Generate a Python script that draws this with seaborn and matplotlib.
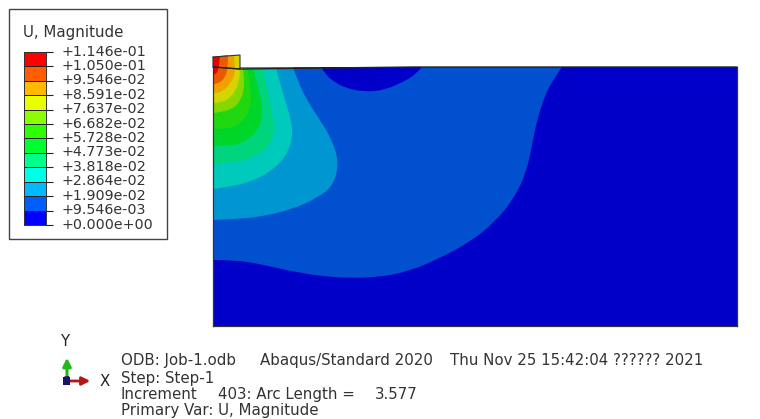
"""Abaqus style contour plot of U, Magnitude with legend and triad."""
import matplotlib
matplotlib.use("Agg")
import matplotlib.pyplot as plt
import numpy as np
import seaborn as sns
from matplotlib.colors import ListedColormap
from matplotlib.patches import PathPatch, Rectangle
from matplotlib.path import Path
from matplotlib.transforms import ScaledTranslation

sns.set_theme(style="white")
plt.rcParams["font.family"] = ["DejaVu Sans"]

LEVEL_LABELS = ["+1.146e-01", "+1.050e-01", "+9.546e-02", "+8.591e-02", "+7.637e-02", "+6.682e-02", "+5.728e-02",
                "+4.773e-02", "+3.818e-02", "+2.864e-02", "+1.909e-02", "+9.546e-03", "+0.000e+00"]
LEGEND_COLORS = ["#ff0000", "#ff5d00", "#ffb900", "#e8ff00", "#8bff00", "#2eff00",
                 "#00ff2e", "#00ff8b", "#00ffe8", "#00b9ff", "#005dff", "#0000ff"]
# field colours, low band to high band
FIELD_COLORS = ["#0000c8", "#0050d0", "#0096d2", "#00cabc", "#00d47c", "#00d62a",
                "#20d810", "#84d800", "#d4d400", "#f0a000", "#ea5a00", "#e60000"]

# contour boundaries: x along the surface, depth below it (model has no scale, so screen-sized units)
band2_x = [349, 340, 332, 324, 319, 314, 302, 282, 257, 227, 197, 167, 137, 107, 77, 47, 22, 0]
band2_d = [0, 13, 28, 53, 78, 103, 130, 155, 175, 191, 204, 210, 211, 209, 204, 197, 193, 193]
band3_x = [80, 85, 95, 107, 119, 126, 120, 104, 80, 47, 22, 0]
band3_d = [0, 15, 35, 53, 73, 96, 119, 131, 142, 150, 152, 153]
band4_x = [63, 67, 73, 78, 80, 72, 58, 42, 22, 0]
band4_d = [1, 16, 36, 53, 71, 91, 104, 113, 119, 122]
band5_x = [50, 55, 60, 61, 55, 37, 17, 0]
band5_d = [1, 26, 50, 67, 81, 92, 96, 97]
band6_x = [40, 47, 50, 45, 30, 14, 0]
band6_d = [1, 26, 46, 64, 76, 79, 79]
band7_x = [34, 39, 37, 26, 10, 0]
band7_d = [1, 23, 44, 59, 62, 62]
band8_x = [30, 32, 28, 17, 0]
band8_d = [1, 16, 34, 44, 46]
band9_x = [27, 27, 26, 18, 7, 0]
band9_d = [-12, 1, 17, 31, 36, 36]
band10_x = [21, 23, 18, 7, 0]
band10_d = [-11, 3, 17, 26, 26]
band11_x = [15, 15, 12, 5, 0]
band11_d = [-12, 1, 11, 17, 17]
band12_x = [7, 6, 2, 0]
band12_d = [-11, 3, 8, 8]
# the shallow low displacement pocket under the surface
pocket_x = [108, 113, 120, 132, 152, 172, 192, 203, 209]
pocket_d = [0, 8, 14, 21, 25, 23, 14, 7, 0]

DOMAIN_W, DOMAIN_D = 524, 259
PLATE_X = [0, 27, 27, 0]
PLATE_D = [-10, -12, 2, 0]


def page_axes(fig):
    ax = fig.add_axes([0, 0, 1, 1], zorder=0)
    ax.set_xlim(0, 760)
    ax.set_ylim(419, 0)
    ax.axis("off")
    return ax


def smooth_band(xs, ds, corner):
    """Region between a boundary curve and the corner; the read points steer quadratic segments."""
    pts = list(zip(xs, ds))
    verts, codes = [pts[0]], [Path.MOVETO]
    for i in range(1, len(pts) - 1):
        end = pts[-1] if i == len(pts) - 2 else ((pts[i][0] + pts[i + 1][0]) / 2, (pts[i][1] + pts[i + 1][1]) / 2)
        verts += [pts[i], end]
        codes += [Path.CURVE3, Path.CURVE3]
    verts += [corner, pts[0]]
    codes += [Path.LINETO, Path.CLOSEPOLY]
    return Path(verts, codes)


def draw_legend(fig, page):
    page.add_patch(Rectangle((9, 9), 158, 230, facecolor="white", edgecolor="#444444", lw=1))
    page.text(23, 33, "U, Magnitude", fontsize=10.8, color="#333333", va="center")
    ax = fig.add_axes([24 / 760, 1 - 225 / 419, 22 / 760, 173 / 419], zorder=1)
    values = np.arange(len(LEGEND_COLORS)).reshape(-1, 1)
    sns.heatmap(values, ax=ax, cmap=ListedColormap(LEGEND_COLORS), cbar=False, linewidths=0.5, linecolor="#222222",
                xticklabels=False, yticklabels=False)
    ax.set_yticks(np.arange(len(LEVEL_LABELS)))
    ax.set_yticklabels(LEVEL_LABELS, rotation=0, fontsize=10.25, color="#333333")
    ax.yaxis.tick_right()
    ax.tick_params(axis="y", right=True, left=False, length=5, width=0.8, color="#222222", pad=6)
    lift = ScaledTranslation(0, 2 / 100, fig.dpi_scale_trans)
    for label in ax.get_yticklabels():
        label.set_transform(label.get_transform() + lift)
    for spine in ax.spines.values():
        spine.set_visible(True)
        spine.set_linewidth(0.7)
        spine.set_color("#333333")


def draw_field(fig):
    ax = fig.add_axes([213 / 760, 1 - 326 / 419, DOMAIN_W / 760, DOMAIN_D / 419], zorder=1)
    ax.set_xlim(0, DOMAIN_W)
    ax.set_ylim(DOMAIN_D, 0)
    ax.set_facecolor(FIELD_COLORS[0])
    bands = [(band2_x, band2_d), (band3_x, band3_d), (band4_x, band4_d), (band5_x, band5_d), (band6_x, band6_d),
             (band7_x, band7_d), (band8_x, band8_d), (band9_x, band9_d), (band10_x, band10_d),
             (band11_x, band11_d), (band12_x, band12_d)]
    ax.fill(PLATE_X, PLATE_D, color=FIELD_COLORS[8], clip_on=False, lw=0)
    for color, (xs, ds) in zip(FIELD_COLORS[1:], bands):
        corner = (0, -10) if ds[0] < -5 else (0, 0)
        ax.add_patch(PathPatch(smooth_band(xs, ds, corner), facecolor=color, lw=0, clip_on=False))
    ax.add_patch(PathPatch(smooth_band(pocket_x, pocket_d, (108, 0)), facecolor=FIELD_COLORS[0], lw=0))
    # outlines of the foundation and the plate
    ax.plot(PLATE_X + PLATE_X[:1], PLATE_D + PLATE_D[:1], color="#333333", lw=0.8, clip_on=False)
    ax.plot([0, 27, 200, DOMAIN_W], [0, 2, 0, 0], color="#222222", lw=1, clip_on=False)
    for spine in ax.spines.values():
        spine.set_linewidth(0.9)
        spine.set_color("#333333")
    ax.spines["top"].set_visible(False)
    ax.set_xticks([])
    ax.set_yticks([])


def draw_triad(page):
    page.annotate("", xy=(67, 355), xytext=(67, 381), arrowprops=dict(arrowstyle="-|>", color="#1fb81f", lw=2.2))
    page.annotate("", xy=(93, 381), xytext=(67, 381), arrowprops=dict(arrowstyle="-|>", color="#b01818", lw=2))
    page.add_patch(Rectangle((63, 377), 7, 8, facecolor="#10108a", edgecolor="none", zorder=3))
    page.text(66, 341, "Y", fontsize=10.8, color="#222222", ha="center", va="center")
    page.text(105, 381, "X", fontsize=10.8, color="#222222", ha="center", va="center")
    page.text(66, 380, "Z", fontsize=6, color="#222222", ha="center", va="center", zorder=4)


def draw_title_block(page):
    rows = [(121, 360, "ODB: Job-1.odb"), (260, 360, "Abaqus/Standard 2020"),
            (450, 360, "Thu Nov 25 15:42:04 ?????? 2021"), (121, 378, "Step: Step-1"),
            (121, 394, "Increment"), (218, 394, "403: Arc Length ="), (375, 394, "3.577"),
            (121, 410, "Primary Var: U, Magnitude")]
    for x, y, label in rows:
        page.text(x, y, label, fontsize=10.8, color="#333333", va="center")


def main():
    fig = plt.figure(figsize=(7.6, 4.19), dpi=100, facecolor="white")
    page = page_axes(fig)
    draw_legend(fig, page)
    draw_field(fig)
    draw_triad(page)
    draw_title_block(page)
    fig.savefig("out.png", dpi=100)
    plt.close(fig)


if __name__ == "__main__":
    main()
